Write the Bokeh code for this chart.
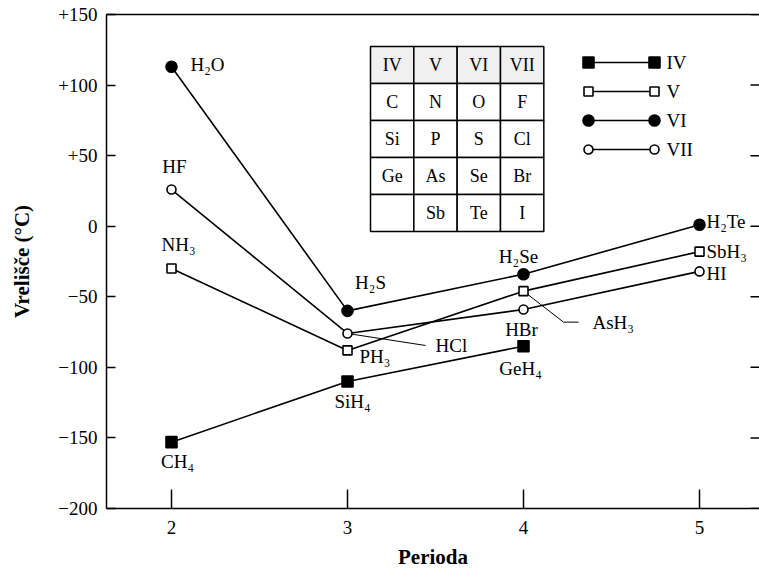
from bokeh.plotting import figure
from bokeh.models import LinearAxis, FixedTicker, Range1d
from bokeh.core.properties import value
from bokeh.embed import file_html
from bokeh.resources import INLINE

# ---------------- data ----------------
periods = [2, 3, 4, 5]
iv_names = ["CH₄", "SiH₄", "GeH₄"]
iv_vals = [-153, -110, -85]
v_names = ["NH₃", "PH₃", "AsH₃", "SbH₃"]
v_vals = [-30, -88, -46, -18]
vi_names = ["H₂O", "H₂S", "H₂Se", "H₂Te"]
vi_vals = [113, -60, -34, 1]
vii_names = ["HF", "HCl", "HBr", "HI"]
vii_vals = [26, -76, -59, -32]
groups = ["IV", "V", "VI", "VII"]
table_rows = [
    ["IV", "V", "VI", "VII"],
    ["C", "N", "O", "F"],
    ["Si", "P", "S", "Cl"],
    ["Ge", "As", "Se", "Br"],
    ["", "Sb", "Te", "I"],
]
y_ticks = [-200, -150, -100, -50, 0, 50, 100, 150]
y_tick_labels = ["−200", "−150", "−100", "−50", "0", "+50", "+100", "+150"]
x_ticks = [2, 3, 4, 5]
x_title = "Perioda"
y_title = "Vrelišče (°C)"

# ---------------- layout (page pixels) ----------------
FONT = "Liberation Serif"
F_L, F_R, F_T, F_B = 106, 759, 14, 508
PX_PER_PERIOD = 176.0
X_AT_2 = 171
X0 = 2 - (X_AT_2 - F_L) / PX_PER_PERIOD
X1 = 2 + (F_R - X_AT_2) / PX_PER_PERIOD
Y0, Y1 = -200, 150


def px2x(px):
    return X0 + (px - F_L) / (F_R - F_L) * (X1 - X0)


def px2y(py):
    return Y1 - (py - F_T) / (F_B - F_T) * (Y1 - Y0)


def ddx(px):
    return px * (X1 - X0) / (F_R - F_L)


def ddy(py):
    return -py * (Y1 - Y0) / (F_B - F_T)


p = figure(
    frame_width=F_R - F_L, frame_height=F_B - F_T,
    x_range=Range1d(X0, X1), y_range=Range1d(Y0, Y1),
    output_backend="svg", toolbar_location=None,
    min_border_left=F_L, min_border_top=F_T,
    min_border_right=0, min_border_bottom=0,
    background_fill_color="white", border_fill_color="white",
)
p.outline_line_color = None
p.grid.visible = False

xa = p.xaxis[0]
xa.ticker = FixedTicker(ticks=x_ticks)
xa.axis_label = x_title
ya = p.yaxis[0]
ya.ticker = FixedTicker(ticks=y_ticks)
ya.major_label_overrides = {t: l for t, l in zip(y_ticks, y_tick_labels)}
ya.axis_label = y_title
for ax in (xa, ya):
    ax.axis_line_width = 1.5
    ax.axis_line_color = "black"
    ax.major_tick_line_width = 1.5
    ax.major_tick_line_color = "black"
    ax.major_tick_out = 0
    ax.minor_tick_line_color = None
    ax.major_label_text_font = FONT
    ax.major_label_text_font_size = "19px"
    ax.major_label_text_color = "black"
    ax.axis_label_text_font = FONT
    ax.axis_label_text_font_style = "bold"
    ax.axis_label_text_font_size = "21px"
    ax.axis_label_text_color = "black"
xa.major_tick_in = 19
xa.major_label_standoff = 12
xa.axis_label_standoff = 8
ya.major_tick_in = 9
ya.major_label_standoff = 9
ya.axis_label_standoff = 21

top = LinearAxis(ticker=FixedTicker(ticks=[]), axis_line_width=1.5,
                 major_tick_out=0, major_tick_in=0, major_label_standoff=0,
                 minor_tick_line_color=None)
p.add_layout(top, "above")

# right-hand inward ticks of the frame
p.segment(x0=[px2x(F_R - 9)] * len(y_ticks), y0=y_ticks,
          x1=[X1] * len(y_ticks), y1=y_ticks, line_color="black", line_width=1.5)

# ---------------- series ----------------
series = [
    (iv_names, iv_vals, "square", "black", 11),
    (v_names, v_vals, "square", "white", 9),
    (vi_names, vi_vals, "circle", "black", 11),
    (vii_names, vii_vals, "circle", "white", 9),
]

# label placement: (align, dx px, dy px) relative to the point
label_pos = {
    "H₂O": ("left", 19, -2), "HF": ("center", 3, -23), "NH₃": ("center", 7, -24),
    "CH₄": ("center", 6, 19), "H₂S": ("center", 23, -28), "HCl": ("left", 88, 12),
    "PH₃": ("left", 12, 6), "SiH₄": ("center", 5, 20), "H₂Se": ("center", -5, -18),
    "HBr": ("center", -2, 20), "GeH₄": ("center", -3, 22), "AsH₃": ("left", 69, 31),
    "H₂Te": ("left", 7, -3), "SbH₃": ("left", 7, 0), "HI": ("left", 7, 2),
}
# leader lines (pixel vertices relative to the point)
leaders = {"HCl": [(0, 0), (78, 12)], "AsH₃": [(0, 0), (40, 31), (55, 31)]}

for names, vals, marker, fill, size in series:
    xs = periods[:len(vals)]
    p.line(xs, vals, line_color="black", line_width=1.6)

for names, vals, marker, fill, size in series:
    xs = periods[:len(vals)]
    for n, x, y in zip(names, xs, vals):
        if n in leaders:
            pts = leaders[n]
            p.line([x + ddx(a) for a, b in pts], [y + ddy(b) for a, b in pts],
                   line_color="black", line_width=1.0)

for names, vals, marker, fill, size in series:
    xs = periods[:len(vals)]
    p.scatter(xs, vals, marker=marker, size=size, fill_color=fill,
              line_color="black", line_width=1.6)
    for n, x, y in zip(names, xs, vals):
        al, dx, dy = label_pos[n]
        p.text([x], [y], text=[n], x_offset=dx, y_offset=dy,
               text_align=al, text_baseline="middle",
               text_font=value(FONT), text_font_size="19px", text_color="black")

# ---------------- periodic table inset ----------------
T_L, T_T, CW, RH = 370, 46, 43.33, 37
cx, cy, cw, ch, cf = [], [], [], [], []
tx, ty, tt = [], [], []
for r, row in enumerate(table_rows):
    for c, txt in enumerate(row):
        x = px2x(T_L + (c + 0.5) * CW)
        y = px2y(T_T + (r + 0.5) * RH)
        cx.append(x)
        cy.append(y)
        cw.append(ddx(CW))
        ch.append(-ddy(RH))
        cf.append("#f0f0f0" if r == 0 else "white")
        if txt:
            tx.append(x)
            ty.append(y)
            tt.append(txt)
p.rect(cx, cy, cw, ch, fill_color=cf, line_color="black", line_width=1.5)
p.text(tx, ty, text=tt, text_align="center", text_baseline="middle",
       text_font=value(FONT), text_font_size="18px", text_color="black")

# ---------------- legend ----------------
L_X1, L_X2, L_TX, L_Y, L_DY = 588, 654, 666, 62, 29
for i, (g, s) in enumerate(zip(groups, series)):
    _, _, marker, fill, size = s
    yy = px2y(L_Y + i * L_DY)
    p.line([px2x(L_X1), px2x(L_X2)], [yy, yy], line_color="black", line_width=1.6)
    p.scatter([px2x(L_X1), px2x(L_X2)], [yy, yy], marker=marker, size=size,
              fill_color=fill, line_color="black", line_width=1.6)
    p.text([px2x(L_TX)], [yy], text=[g], text_align="left", text_baseline="middle",
           text_font=value(FONT), text_font_size="19px", text_color="black")

open("out.html", "w").write(file_html(p, INLINE))
